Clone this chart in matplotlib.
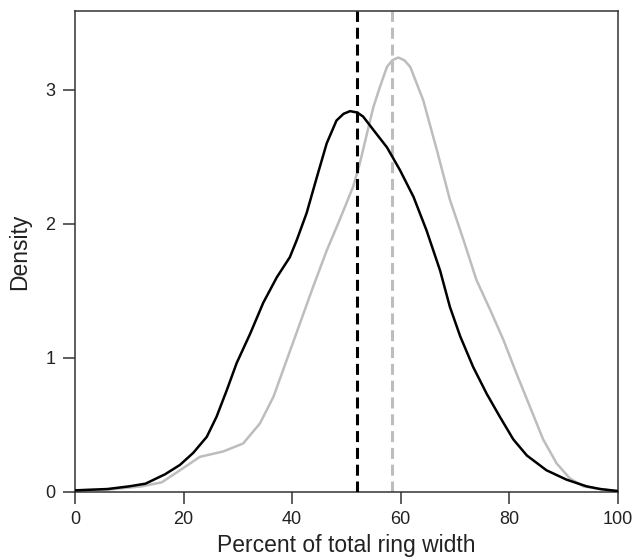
import matplotlib
matplotlib.use("Agg")
import matplotlib.pyplot as plt

# Black density curve
black_x = [0, 6, 10, 13, 16.6, 19.35, 21.8, 24.3, 26.1, 28.0, 29.8, 32.3, 34.7, 37.2, 39.6,
           40.9, 42.7, 44.6, 46.4, 48.2, 49.5, 50.7, 52.0, 53.1, 55.0, 57.5, 59.9, 62.4,
           64.8, 67.3, 69.1, 71.0, 73.4, 75.9, 78.3, 80.8, 83.3, 86.9, 90.6, 94.3, 96.8, 100]
black_y = [0.01, 0.02, 0.04, 0.06, 0.13, 0.20, 0.29, 0.41, 0.56, 0.76, 0.96, 1.18, 1.41, 1.60, 1.75,
           1.88, 2.08, 2.35, 2.60, 2.77, 2.82, 2.84, 2.83, 2.80, 2.70, 2.57, 2.40, 2.20,
           1.95, 1.65, 1.38, 1.16, 0.93, 0.73, 0.56, 0.39, 0.27, 0.16, 0.09, 0.04, 0.02, 0.005]

# Gray density curve
gray_x = [0, 6, 12.3, 16.0, 19.35, 23.0, 27.3, 31.0, 34.1, 36.6, 39.0, 41.5, 43.9, 46.4, 48.8,
          51.3, 52.5, 53.8, 55.0, 56.2, 57.5, 58.5, 59.6, 60.7, 61.8, 64.2, 66.7, 69.1, 71.6,
          74.0, 76.5, 79.0, 81.4, 83.9, 86.3, 88.8, 91.2, 93.7, 96.8, 100]
gray_y = [0.01, 0.015, 0.04, 0.07, 0.16, 0.26, 0.30, 0.36, 0.51, 0.71, 0.98, 1.26, 1.53, 1.80, 2.03,
          2.28, 2.45, 2.67, 2.87, 3.02, 3.17, 3.22, 3.24, 3.22, 3.17, 2.92, 2.55, 2.18, 1.88,
          1.58, 1.36, 1.13, 0.88, 0.63, 0.39, 0.21, 0.10, 0.04, 0.02, 0.005]

# Mean lines
black_mean = 52.0
gray_mean = 58.5

x_ticks = [0, 20, 40, 60, 80, 100]
y_ticks = [0, 1, 2, 3]

plt.rcParams['font.family'] = ['Liberation Sans', 'DejaVu Sans']

fig = plt.figure(figsize=(6.36, 5.59), dpi=100)
ax = fig.add_axes([75/636, 1 - 491.7/559, (617.5 - 75)/636, (491.7 - 11)/559])

black_c = '#000000'
gray_c = '#bdbdbd'

ax.plot(gray_x, gray_y, color=gray_c, lw=1.8, solid_joinstyle='round', zorder=2)
ax.plot(black_x, black_y, color=black_c, lw=1.8, solid_joinstyle='round', zorder=3)

l1 = ax.axvline(black_mean, color=black_c, lw=2.2, zorder=4)
l1.set_dashes((3.6, 1.9))
l2 = ax.axvline(gray_mean, color=gray_c, lw=2.2, zorder=1)
l2.set_dashes((3.6, 1.9))

ax.set_xlim(0, 100)
ax.set_ylim(0, (491.7 - 11) / 134.0)
ax.set_xticks(x_ticks)
ax.set_yticks(y_ticks)

for s in ax.spines.values():
    s.set_color('#333333')
    s.set_linewidth(1.1)

ax.tick_params(axis='both', direction='out', length=8.6, width=1.1, color='#333333',
               labelsize=13, labelcolor='#222222', pad=5.5)

ax.set_xlabel('Percent of total ring width', fontsize=16.5, color='#222222', labelpad=4)
ax.set_ylabel('Density', fontsize=16.5, color='#222222', labelpad=10)

fig.savefig('out.png', dpi=100)
